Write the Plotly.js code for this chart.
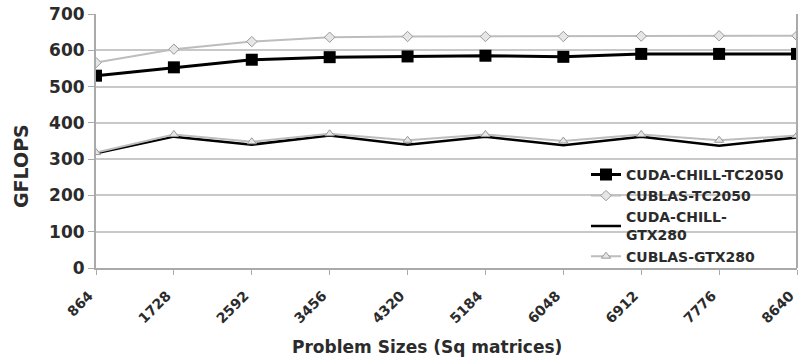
<!DOCTYPE html>
<html><head><meta charset="utf-8">
<script src="https://cdn.plot.ly/plotly-3.0.1.min.js"></script>
<style>html,body{margin:0;padding:0;background:#fff}#c{width:799px;height:359px}</style>
</head><body><div id="c"></div>
<script>
const sizes = [864, 1728, 2592, 3456, 4320, 5184, 6048, 6912, 7776, 8640];
const chillTC2050 = [530, 553, 574, 581, 583, 585, 582, 590, 590, 590];
const cublasTC2050 = [566, 603, 624, 636, 638, 638, 638, 639, 640, 640];
const chillGTX280 = [316, 362, 340, 365, 340, 362, 338, 362, 337, 360];
const cublasGTX280 = [318, 368, 348, 370, 352, 368, 350, 368, 352, 365];
const names = ["CUDA-CHILL-TC2050", "CUBLAS-TC2050", "CUDA-CHILL-<br>GTX280", "CUBLAS-GTX280"];
const xTitle = 'Problem Sizes (Sq matrices)';
const yTitle = 'GFLOPS';

const FF = 'DejaVu Sans, Liberation Sans, Arial, sans-serif';
const TXT = '#2b2b2b';

const traces = [
  {x: sizes, y: chillTC2050, name: names[0], mode: 'lines+markers',
   line: {color: '#000', width: 3}, marker: {symbol: 'square', size: 12, color: '#000'}},
  {x: sizes, y: cublasTC2050, name: names[1], mode: 'lines+markers',
   line: {color: '#bdbdbd', width: 2}, marker: {symbol: 'diamond', size: 8, color: '#e6e6e6', line: {color: '#999', width: 1}}},
  {x: sizes, y: chillGTX280, name: names[2], mode: 'lines',
   line: {color: '#000', width: 2.5}},
  {x: sizes, y: cublasGTX280, name: names[3], mode: 'lines+markers',
   line: {color: '#bdbdbd', width: 2}, marker: {symbol: 'triangle-up', size: 8, color: '#e6e6e6', line: {color: '#999', width: 1}}}
];

const layout = {
  width: 799, height: 359,
  margin: {l: 96, r: 2, t: 14, b: 91},
  paper_bgcolor: '#fff', plot_bgcolor: '#fff',
  font: {family: FF, color: TXT},
  showlegend: true,
  legend: {x: 0.699, y: 0.43, xanchor: 'left', yanchor: 'top', bgcolor: 'rgba(0,0,0,0)',
    font: {size: 14, color: TXT, family: FF, weight: 'bold'},
    itemwidth: 30, tracegroupgap: 0},
  xaxis: {range: [864, 8640], tickvals: sizes, ticktext: sizes.map(String), tickangle: -45,
    showgrid: false, zeroline: false, showline: true, linecolor: '#aaa', linewidth: 2,
    ticks: 'outside', ticklen: 5, tickcolor: '#aaa', ticklabelstandoff: 7, ticklabelshift: -7,
    ticklabeloverflow: 'allow',
    tickfont: {size: 14, color: TXT, family: FF, weight: 'bold'}},
  yaxis: {range: [0, 700], tickvals: [0,100,200,300,400,500,600,700],
    showgrid: true, gridcolor: '#c8c8c8', gridwidth: 2, zeroline: false,
    showline: true, linecolor: '#aaa', linewidth: 2, ticks: 'outside', ticklen: 6, tickcolor: '#aaa',
    tickfont: {size: 17, color: TXT, family: FF, weight: 'bold'}},
  annotations: [
    {text: xTitle, xref: 'paper', yref: 'paper', x: (427 - 96) / 701, y: -(347 - 268) / 254,
     xanchor: 'center', yanchor: 'middle', showarrow: false,
     font: {size: 17, color: TXT, family: FF, weight: 'bold'}},
    {text: yTitle, xref: 'paper', yref: 'paper', x: (21 - 96) / 701, y: (268 - 166) / 254,
     xanchor: 'center', yanchor: 'middle', showarrow: false, textangle: -90,
     font: {size: 19, color: TXT, family: FF, weight: 'bold'}}
  ],
  shapes: [{type: 'line', xref: 'paper', yref: 'paper', x0: 1, x1: 1, y0: 0, y1: 1, line: {color: '#aaa', width: 2}}]
};
Plotly.newPlot('c', traces, layout, {displayModeBar: false, staticPlot: true});
</script></body></html>
